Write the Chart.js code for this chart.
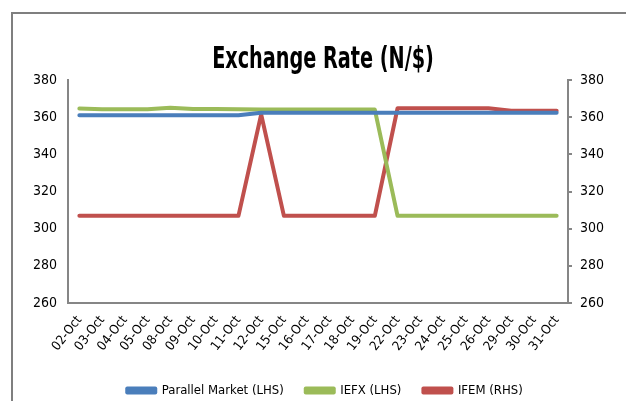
<!DOCTYPE html>
<html>
<head>
<meta charset="utf-8">
<script src="https://cdn.jsdelivr.net/npm/chart.js@4.4.1/dist/chart.umd.min.js"></script>
<style>
  html, body { margin: 0; padding: 0; background: #ffffff; }
  #wrap { position: relative; width: 626px; height: 401px; }
</style>
</head>
<body>
<div id="wrap"><canvas id="c" width="626" height="401"></canvas></div>
<script>
// Trading days in October
const categories = ['02-Oct','03-Oct','04-Oct','05-Oct','08-Oct','09-Oct','10-Oct','11-Oct','12-Oct','15-Oct','16-Oct',
                    '17-Oct','18-Oct','19-Oct','22-Oct','23-Oct','24-Oct','25-Oct','26-Oct','29-Oct','30-Oct','31-Oct'];

// Naira per dollar
const parallelMarket = [361, 361, 361, 361, 361, 361, 361, 361, 362.4, 362.4, 362.4,
                        362.4, 362.4, 362.4, 362.4, 362.4, 362.4, 362.4, 362.4, 362.4, 362.4, 362.4];
const iefx = [364.6, 364.2, 364.2, 364.3, 365.1, 364.4, 364.4, 364.3, 364.1, 364.1, 364.1,
              364.1, 364.1, 364.1, 306.9, 306.9, 306.9, 306.9, 306.9, 306.9, 306.9, 306.9];
const ifem = [306.9, 306.9, 306.9, 306.9, 306.9, 306.9, 306.9, 306.9, 361.5, 306.9, 306.9,
              306.9, 306.9, 306.9, 364.8, 364.8, 364.8, 364.8, 364.8, 363.4, 363.4, 363.4];

// Axis range shared by both sides
const yMin = 260, yMax = 380, yStep = 20;

const chartTitle = 'Exchange Rate (N/$)';

const FONT = "'DejaVu Sans Condensed', 'Liberation Sans Narrow', sans-serif";
const AXIS_GREY = '#868686';
const BLUE = '#4A7EBB', GREEN = '#9BBB59', RED = '#C0504D';

// Frame around the chart
const framePlugin = {
  id: 'frame',
  beforeDraw(chart) {
    const ctx = chart.ctx;
    ctx.save();
    ctx.strokeStyle = '#7f7f7f';
    ctx.lineWidth = 2;
    ctx.beginPath();
    ctx.moveTo(12, 402);
    ctx.lineTo(12, 13);
    ctx.lineTo(627, 13);
    ctx.stroke();
    ctx.restore();
  }
};

// Condensed bold heading centred over the plot
const headingPlugin = {
  id: 'heading',
  afterLayout(chart) {
    // nudge the legend so it sits under the middle of the plot
    if (chart.legend) {
      chart.legend.left += 12;
      chart.legend.right += 12;
    }
  },
  afterDraw(chart) {
    const ctx = chart.ctx;
    const cx = (chart.chartArea.left + chart.chartArea.right) / 2 + 5;
    ctx.save();
    ctx.translate(cx, 68);
    ctx.scale(0.69, 1);
    ctx.font = "bold 31px " + FONT;
    ctx.fillStyle = '#000000';
    ctx.textAlign = 'center';
    ctx.textBaseline = 'alphabetic';
    ctx.fillText(chartTitle, 0, 0);
    ctx.restore();
  }
};

function line(label, data, color, axis) {
  return {
    label, data, yAxisID: axis,
    borderColor: color, backgroundColor: color,
    borderWidth: 4, pointRadius: 0, tension: 0,
    borderCapStyle: 'round', borderJoinStyle: 'round'
  };
}

new Chart(document.getElementById('c'), {
  type: 'line',
  data: {
    labels: categories,
    datasets: [
      line('Parallel Market (LHS)', parallelMarket, BLUE, 'yL'),
      line('IEFX (LHS)', iefx, GREEN, 'yL'),
      line('IFEM (RHS)', ifem, RED, 'yR')
    ]
  },
  options: {
    responsive: false,
    animation: false,
    layout: { padding: { left: 0, right: 0, top: 80, bottom: -6 } },
    plugins: {
      title: { display: false },
      legend: {
        position: 'bottom',
        labels: {
          color: '#000000',
          font: { family: FONT, size: 13 },
          boxWidth: 28, boxHeight: 4,
          padding: 22
        }
      },
      tooltip: { enabled: false }
    },
    scales: {
      x: {
        offset: true,
        grid: { display: false, drawTicks: false },
        border: { display: true, color: AXIS_GREY, width: 2 },
        ticks: {
          color: '#000000', font: { family: FONT, size: 13 },
          maxRotation: 52, minRotation: 52, autoSkip: false, padding: 10
        },
        afterFit(s) { s.height = 59; }
      },
      yL: {
        position: 'left', min: yMin, max: yMax,
        grid: { display: false, drawTicks: false },
        border: { display: true, color: AXIS_GREY, width: 2 },
        ticks: { stepSize: yStep, color: '#000000', font: { family: FONT, size: 14 }, padding: 11 },
        afterFit(s) { s.width = 68; }
      },
      yR: {
        position: 'right', min: yMin, max: yMax,
        grid: { display: true, drawOnChartArea: false, drawTicks: true, tickLength: 4, color: AXIS_GREY, lineWidth: 2 },
        border: { display: true, color: AXIS_GREY, width: 2 },
        ticks: { stepSize: yStep, color: '#000000', font: { family: FONT, size: 14 }, padding: 8 },
        afterFit(s) { s.width = 58; }
      }
    }
  },
  plugins: [framePlugin, headingPlugin]
});
</script>
</body>
</html>
